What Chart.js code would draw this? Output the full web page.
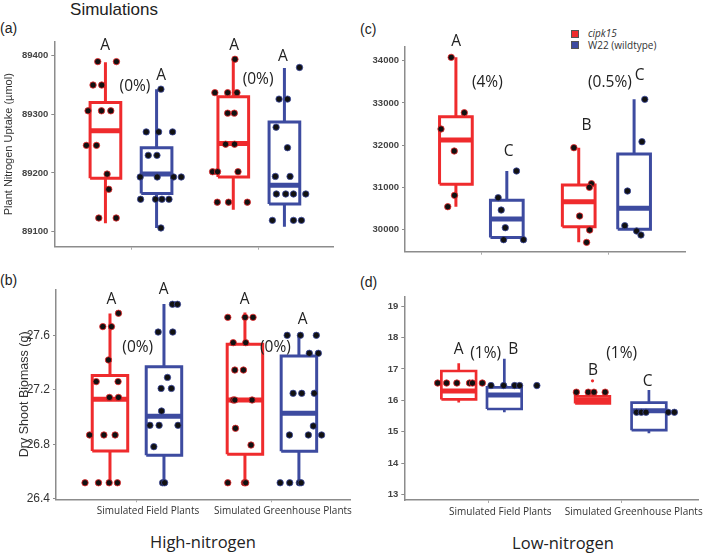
<!DOCTYPE html>
<html><head><meta charset="utf-8">
<script src="https://cdn.jsdelivr.net/npm/chart.js@4/dist/chart.umd.min.js"></script>
<style>
body{margin:0;background:#fff;width:709px;height:556px;position:relative;overflow:hidden}
canvas{position:absolute}
.t{position:absolute;white-space:nowrap;color:#222;transform:translate(-50%,-50%)}
.pl{position:absolute;white-space:nowrap;color:#222;font-family:"Liberation Sans",Arial,sans-serif;font-size:14px;transform:translateY(-50%)}
.lg{position:absolute;font-family:"Open Sans",sans-serif;font-size:10px;color:#333;white-space:nowrap;transform:translateY(-50%)}
.sq{position:absolute;width:6px;height:6px;border:1px solid #555}
</style></head><body>
<div class="t" style="left:114px;top:10px;font-family:'Liberation Sans',Arial,sans-serif;font-size:17px">Simulations</div>
<div class="pl" style="left:0px;top:28px">(a)</div>
<div class="pl" style="left:0px;top:280px">(b)</div>
<div class="pl" style="left:360px;top:29px">(c)</div>
<div class="pl" style="left:360px;top:282px">(d)</div>
<div class="t" style="left:203px;top:541px;font-family:'Open Sans',sans-serif;font-size:16.5px">High-nitrogen</div>
<div class="t" style="left:563px;top:542px;font-family:'Open Sans',sans-serif;font-size:16.5px">Low-nitrogen</div>
<div class="sq" style="left:571px;top:30px;background:#ef2b2d"></div>
<div class="sq" style="left:571px;top:41px;background:#3d4ba0"></div>
<div class="lg" style="left:588px;top:33px;font-style:italic">cipk15</div>
<div class="lg" style="left:588px;top:44.5px">W22 (wildtype)</div>
<canvas id="ca" width="355" height="246" style="left:0;top:18px"></canvas>
<canvas id="cb" width="355" height="262" style="left:0;top:268px"></canvas>
<canvas id="cc" width="354" height="246" style="left:355px;top:18px"></canvas>
<canvas id="cd" width="354" height="262" style="left:355px;top:268px"></canvas>
<script>
const groups = ["Simulated Field Plants", "Simulated Greenhouse Plants"];
// box stats per group: [lower whisker, Q1, median, Q3, upper whisker]
// (a) Plant Nitrogen Uptake, high nitrogen
const aRedStats  = [[89114, 89191, 89272, 89320, 89389], [89137, 89193, 89250, 89330, 89394]];
const aBlueStats = [[89106, 89165, 89198, 89243, 89343], [89108, 89147, 89179, 89287, 89379]];
const aRedPts  = [[89390,89390,89350,89350,89306,89306,89306,89247,89247,89198,89172,89123,89123],
                  [89394,89337,89337,89337,89302,89302,89249,89249,89202,89202,89202,89150,89150,89150]];
const aRedJit  = [[-0.06,0.086,-0.097,-0.029,-0.136,-0.031,0.042,-0.149,-0.07,0.013,0.026,-0.052,0.084],
                  [0.013,-0.144,-0.044,0.029,-0.044,0.008,-0.06,0.01,-0.162,-0.123,0.037,-0.125,-0.037,0.11]];
const aBluePts = [[89343,89270,89270,89270,89230,89230,89193,89193,89193,89193,89155,89155,89155,89155,89106],
                  [89380,89326,89326,89278,89243,89194,89194,89164,89164,89164,89164,89119,89119,89119]];
const aBlueJit = [[0.034,-0.081,0.016,0.125,-0.065,0.003,-0.128,0.005,0.133,0.193,-0.125,-0.008,0.042,0.097,0.034],
                  [0.118,-0.042,0.024,-0.065,0.024,-0.071,0.044,-0.063,0.01,0.071,0.167,-0.094,0.071,0.133]];
const aTicks = [89100, 89200, 89300, 89400];
const aLetters = [["A",0.797,89418],["(0%)",1.031,89348],["A",1.235,89367],["A",1.806,89418],["(0%)",1.994,89360],["A",2.189,89398]];

// (b) Dry Shoot Biomass, high nitrogen
const bRedStats  = [[26.517, 26.75, 27.13, 27.304, 27.76], [26.517, 26.726, 27.125, 27.534, 27.767]];
const bBlueStats = [[26.517, 26.72, 27.005, 27.37, 27.83], [26.517, 26.748, 27.027, 27.448, 27.6]];
const bRedPts  = [[27.762,27.664,27.664,27.419,27.26,27.26,27.144,27.144,26.868,26.868,26.868,26.517,26.517,26.517,26.517],
                  [27.732,27.732,27.732,27.546,27.546,27.345,27.345,27.125,27.125,27.125,26.917,26.794,26.517,26.517,26.517]];
const bRedJit  = [[0.063,-0.053,0.011,-0.011,-0.102,0.06,-0.004,0.063,-0.151,-0.045,0.038,-0.185,-0.085,-0.006,0.055],
                  [-0.127,0.001,0.06,-0.087,0.006,-0.075,-0.011,-0.087,-0.075,0.053,-0.07,0.045,-0.127,-0.004,0.006]];
const bBluePts = [[27.828,27.828,27.624,27.624,27.291,27.21,27.21,27.044,26.939,26.939,26.939,26.782,26.517,26.517],
                  [27.6,27.6,27.6,27.468,27.468,27.174,27.174,27.174,26.934,26.868,26.868,26.868,26.517,26.517,26.517,26.517]];
const bBlueJit = [[0.063,0.1,-0.043,0.065,0.026,-0.021,0.055,-0.018,-0.104,-0.036,0.104,-0.075,-0.01,0.005],
                  [-0.087,0.011,0.129,0.077,0.144,-0.043,0.021,0.114,0.107,-0.07,0.07,0.168,-0.139,-0.068,0.003,0.016]];
const bTicks = [26.4, 26.8, 27.2, 27.6];
const bLetters = [["A",0.81,27.865],["A",1.198,27.933],["(0%)",1.006,27.512],["A",1.798,27.859],["(0%)",2.026,27.512],["A",2.228,27.712]];

// (c) Plant Nitrogen Uptake, low nitrogen
const cRedStats  = [[30544, 31073, 32122, 32675, 34079], [29700, 30071, 30663, 31057, 31941]];
const cBlueStats = [[29818, 29818, 30252, 30694, 31389], [30008, 30008, 30505, 31791, 33085]];
const cRedPts  = [[34079,32769,32383,31862,30813,30544], [31941,31089,31002,30323,29992,29700]];
const cRedJit  = [[-0.037,0.066,-0.117,-0.013,-0.011,-0.064], [-0.038,0.1,0.084,0.007,0.086,0.062]];
const cBluePts = [[31389,30757,30465,30047,29763,29763], [33085,32083,30915,30095,29968,29874]];
const cBlueJit = [[0.076,-0.068,-0.044,-0.012,-0.025,0.131], [0.084,0.062,-0.052,-0.073,0.02,0.054]];
const cTicks = [30000, 31000, 32000, 33000, 34000];
const cLetters = [["A",0.801,34450],["(4%)",1.047,33489],["C",1.215,31846],["B",1.827,32454],["(0.5%)",2.01,33489],["C",2.244,33638]];

// (d) Dry Shoot Biomass, low nitrogen
const dRedStats  = [[15.93, 16.03, 16.3, 16.933, 17.18], [15.9, 15.9, 16.02, 16.13, 16.13]];
const dBlueStats = [[15.62, 15.724, 16.17, 16.413, 17.32], [14.95, 15.05, 15.67, 15.93, 16.33]];
const dRedPts  = [[16.55,16.55,16.55,16.55,16.55,16.55], [16.26,16.26,16.26,16.26]];
const dRedJit  = [[-0.158,-0.091,-0.014,0.081,0.103,0.177], [-0.121,-0.032,0.011,0.095]];
const dBluePts = [[16.47,16.47,16.47,16.47,16.47], [15.62,15.62,15.62,15.62,15.62]];
const dBlueJit = [[-0.1,-0.005,0.077,0.115,0.244], [-0.093,-0.057,-0.022,0.144,0.191]];
const dRedOutlier = [[], [16.62]];
const dTicks = [13, 14, 15, 16, 17, 18, 19];
const dLetters = [["A",0.778,17.6],["(1%)",0.98,17.5],["B",1.187,17.6],["B",1.785,16.96],["(1%)",2.0,17.5],["C",2.195,16.59]];

const RED = '#ef2b2d', BLUE = '#3d4ba0';

function lineDs(pts, color, w){
  return {data: pts, showLine: true, borderColor: color, borderWidth: w, pointRadius: 0, pointHoverRadius: 0,
          fill: false, tension: 0, borderCapStyle: 'butt', borderJoinStyle: 'miter', order: 2};
}
function boxSets(stats, pos, half, color, lw, mw){
  const out = [];
  stats.forEach((s, g) => {
    const x = pos[g], [lo, q1, md, q3, hi] = s;
    out.push(lineDs([{x:x,y:q3},{x:x,y:hi}], color, lw));
    out.push(lineDs([{x:x,y:q1},{x:x,y:lo}], color, lw));
    out.push(lineDs([{x:x-half,y:q1},{x:x+half,y:q1},{x:x+half,y:q3},{x:x-half,y:q3},{x:x-half,y:q1}], color, lw));
    out.push(lineDs([{x:x-half,y:md},{x:x+half,y:md}], color, mw));
  });
  return out;
}
function pointSet(vals, jit, pos, color){
  const data = [];
  vals.forEach((arr, g) => arr.forEach((v, i) => data.push({x: pos[g] + jit[g][i], y: v})));
  return {data, pointRadius: 3.2, pointBackgroundColor: '#111', pointBorderColor: color, pointBorderWidth: 0.8, showLine: false, order: 0};
}

const lettersPlugin = {
  id: 'letters',
  afterDatasetsDraw(chart){
    const L = chart.options.plugins.letters.items, ctx = chart.ctx;
    ctx.save();
    ctx.fillStyle = '#222';
    ctx.font = '15.5px "Open Sans", sans-serif';
    ctx.textAlign = 'center'; ctx.textBaseline = 'middle';
    L.forEach(([t, x, y]) => ctx.fillText(t, chart.scales.x.getPixelForValue(x), chart.scales.y.getPixelForValue(y)));
    ctx.restore();
  }
};

function makePanel(c){
  const datasets = [
    pointSet(c.redPts, c.redJit, c.redPos, RED),
    pointSet(c.bluePts, c.blueJit, c.bluePos, BLUE),
    ...boxSets(c.redStats, c.redPos, c.boxW/2, RED, c.lw, c.mw),
    ...boxSets(c.blueStats, c.bluePos, c.boxW/2, BLUE, c.lw, c.mw)
  ];
  if (c.outlier){
    const d = [];
    c.outlier.forEach((arr, g) => arr.forEach(v => d.push({x: c.redPos[g], y: v})));
    datasets.push({data: d, pointRadius: 1.6, pointBackgroundColor: RED, pointBorderColor: RED, pointBorderWidth: 0, order: 0});
  }
  new Chart(document.getElementById(c.id), {
    type: 'scatter',
    data: {datasets},
    options: {
      responsive: false, animation: false, events: [],
      layout: {padding: {left: 0, top: c.padTop, right: c.padRight, bottom: 0}},
      plugins: {legend: {display: false}, tooltip: {enabled: false}, letters: {items: c.letters}},
      scales: {
        x: {type: 'linear', min: c.xmin, max: c.xmax,
            afterBuildTicks: s => { s.ticks = [{value: 1}, {value: 2}]; },
            afterFit: s => { s.height = c.xH; },
            ticks: {callback: v => c.showX ? groups[Math.round(v) - 1] : '', autoSkip: false, maxRotation: 0,
                    font: {family: '"Open Sans", sans-serif', size: 10}, color: '#333', labelOffset: c.labelOffset || 0, padding: 3},
            grid: {drawOnChartArea: false, drawTicks: true, tickLength: 3, color: '#aaa'},
            border: {display: true, color: '#8c8c8c', width: 1.5}},
        y: {type: 'linear', min: c.ymin, max: c.ymax,
            afterBuildTicks: s => { s.ticks = c.ticks.map(v => ({value: v})); },
            afterFit: s => { s.width = c.yW; },
            ticks: {callback: c.fmt, font: c.tickFont, color: c.tickColor, padding: 3},
            grid: {drawOnChartArea: false, drawTicks: true, tickLength: 3, color: '#8c8c8c'},
            border: {display: true, color: '#8c8c8c', width: 1.5},
            title: c.yTitle ? {display: true, text: c.yTitle, font: c.titleFont, color: '#333', padding: {top: c.titlePad, bottom: 0}} : {display: false}}
      }
    },
    plugins: [lettersPlugin]
  });
}

const smallTick = {family: '"Liberation Sans", Arial, sans-serif', size: 9.5, weight: 'bold'};
makePanel({id: 'ca', redStats: aRedStats, blueStats: aBlueStats, redPts: aRedPts, redJit: aRedJit, bluePts: aBluePts, blueJit: aBlueJit,
  redPos: [0.8, 1.8], bluePos: [1.2, 2.2], boxW: 0.24, lw: 3, mw: 5, xmin: 0.4, xmax: 2.58, ymin: 89074, ymax: 89424,
  ticks: aTicks, fmt: v => String(v), tickFont: smallTick, tickColor: '#444', letters: aLetters,
  yW: 54.3, padTop: 23.7, padRight: 22, xH: 17.3, showX: false,
  yTitle: 'Plant Nitrogen Uptake (\u00b5mol)', titleFont: {family: '"Liberation Sans", Arial, sans-serif', size: 11}, titlePad: 2.4});
makePanel({id: 'cb', redStats: bRedStats, blueStats: bBlueStats, redPts: bRedPts, redJit: bRedJit, bluePts: bBluePts, blueJit: bBlueJit,
  redPos: [0.8, 1.8], bluePos: [1.2, 2.2], boxW: 0.263, lw: 3, mw: 5, xmin: 0.4, xmax: 2.58, ymin: 26.3956, ymax: 27.938,
  ticks: bTicks, fmt: v => v.toFixed(1), tickFont: {family: '"Liberation Sans", Arial, sans-serif', size: 12}, tickColor: '#333', letters: bLetters,
  yW: 56, padTop: 21.3, padRight: 3.3, xH: 30.7, showX: true, labelOffset: 11,
  yTitle: 'Dry Shoot Biomass (g)', titleFont: {family: '"Liberation Sans", Arial, sans-serif', size: 12.5}, titlePad: 17});
makePanel({id: 'cc', redStats: cRedStats, blueStats: cBlueStats, redPts: cRedPts, redJit: cRedJit, bluePts: cBluePts, blueJit: cBlueJit,
  redPos: [0.8, 1.765], bluePos: [1.2, 2.2], boxW: 0.257, lw: 3, mw: 5, xmin: 0.4, xmax: 2.6, ymin: 29479, ymax: 34331,
  ticks: cTicks, fmt: v => String(v), tickFont: smallTick, tickColor: '#444', letters: cLetters,
  yW: 50, padTop: 28.7, padRight: 24, xH: 12.3, showX: false});
makePanel({id: 'cd', redStats: dRedStats, blueStats: dBlueStats, redPts: dRedPts, redJit: dRedJit, bluePts: dBluePts, blueJit: dBlueJit,
  redPos: [0.778, 1.781], bluePos: [1.12, 2.204], boxW: 0.26, lw: 2.7, mw: 5, xmin: 0.37, xmax: 2.572, ymin: 12.83, ymax: 19.296,
  ticks: dTicks, fmt: v => String(v), tickFont: smallTick, tickColor: '#444', letters: dLetters, outlier: dRedOutlier,
  yW: 49.3, padTop: 28.7, padRight: 11, xH: 30, showX: true, labelOffset: 12});
</script>
</body></html>
